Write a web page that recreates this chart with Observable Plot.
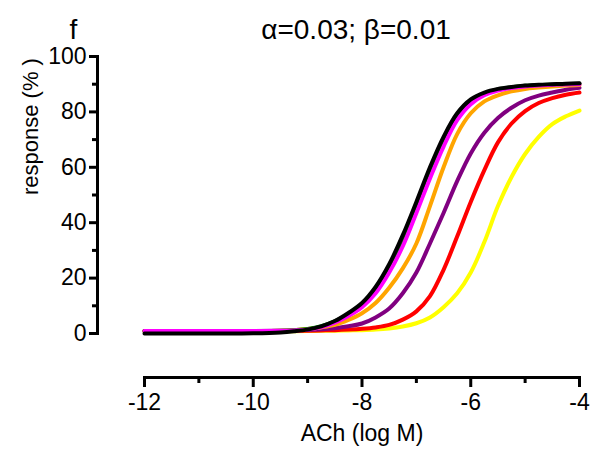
<!DOCTYPE html>
<html><head><meta charset="utf-8">
<script src="https://cdn.jsdelivr.net/npm/d3@7"></script>
<script src="https://cdn.jsdelivr.net/npm/@observablehq/plot@0.6"></script>
<style>body{margin:0;background:#fff}</style>
</head><body><div id="chart"></div>
<script>
const panelLabel = "f";
const title = "α=0.03; β=0.01";
const xLabel = "ACh (log M)";
const yLabel = "response (% )";

const logACh = [-12,-11,-10,-9.5,-9.25,-9,-8.75,-8.5,-8.25,-8,-7.75,-7.5,-7.25,-7,-6.75,-6.5,-6.25,-6,-5.75,-5.5,-5.25,-5,-4.75,-4.5,-4.25,-4];

const yellow  = [0.8,0.8,0.8,0.8,0.85,0.9,0.95,1.0,1.1,1.2,1.4,1.8,2.5,3.7,5.8,9.5,14.5,22,33,46,56.5,64.8,71,75.6,78.4,80.5];
const red     = [0.9,0.9,0.9,0.9,0.95,1.0,1.1,1.2,1.4,1.7,2.2,3.1,5,8,13.5,23,35,47.5,59,69,75.8,80.3,83.2,85,86.2,87];
const purple  = [0.9,0.9,0.9,1.0,1.1,1.3,1.5,1.9,2.6,3.6,5.8,9,14.5,22,32.5,43.5,55,65,72.5,77.8,81.5,84.2,85.9,87,88,88.7];
const orange  = [0.9,0.9,0.9,1.0,1.2,1.6,2.2,3.1,4.9,7.3,11,16.5,23.5,32.5,46,60,72,79.5,83.8,86,87.4,88.3,88.8,89.2,89.5,89.7];
const green   = [0.9,0.9,0.9,1.0,1.2,1.6,2.6,4.4,7.0,10.5,16,24,34,46,58.5,69.8,78.5,83.8,86.6,88.1,88.9,89.4,89.7,89.9,90.1,90.2];
const magenta = [0.9,0.9,0.9,0.95,1.1,1.4,2.3,3.9,6.3,9.5,14.5,22,31.5,43.5,56,67.5,77,82.8,86,87.7,88.6,89.2,89.5,89.8,89.9,90];
const black   = [0,0,0.1,0.4,0.8,1.4,2.6,4.5,7.4,11.0,16.8,25,35.5,47.5,60,71,79.5,84.5,87,88.3,89,89.5,89.8,90,90.2,90.3];

const seriesNames  = ["yellow","red","purple","orange","green","magenta","black"];
const seriesValues = [yellow, red, purple, orange, green, magenta, black];
const seriesColors = ["#ffff00","#ff2200","#993399","#ff9900","#00ff00","#ff44ff","#000000"];

const xTicks = [-12,-10,-8,-6,-4];
const xMinorTicks = [-11,-9,-7,-5];
const yTicks = [0,20,40,60,80,100];
const yMinorTicks = [10,30,50,70,90];

const rows = [];
seriesNames.forEach((s, k) => logACh.forEach((x, i) => rows.push({x, y: seriesValues[k][i], s})));

const font = "'Liberation Sans', Arial, sans-serif";

const chart = Plot.plot({
  width: 599, height: 455,
  marginLeft: 144, marginRight: 20, marginTop: 56, marginBottom: 122,
  x: {domain: [-12, -4]},
  y: {domain: [0, 100]},
  color: {domain: seriesNames, range: seriesColors},
  style: {fontFamily: font, fontSize: "23px", color: "black", background: "white", overflow: "visible"},
  marks: [
    Plot.line(rows, {x: "x", y: "y", z: "s", stroke: "s", strokeWidth: 4, curve: "catmull-rom"}),
    // y axis
    Plot.frame({anchor: "left", dx: -47, strokeWidth: 3, stroke: "black"}),
    Plot.axisY(yTicks, {anchor: "left", dx: -47, tickSize: 8, tickPadding: 3, strokeWidth: 3, label: null, fontSize: 23, tickFormat: d => String(d)}),
    Plot.axisY(yMinorTicks, {anchor: "left", dx: -47, tickSize: 5, strokeWidth: 3, label: null, text: null}),
    // x axis
    Plot.frame({anchor: "bottom", dy: 44, strokeWidth: 3, stroke: "black"}),
    Plot.axisX(xTicks, {anchor: "bottom", dy: 44, tickSize: 10, tickPadding: 6, strokeWidth: 3, label: null, fontSize: 23, tickFormat: d => String(d)}),
    Plot.axisX(xMinorTicks, {anchor: "bottom", dy: 44, tickSize: 6, strokeWidth: 3, label: null, text: null}),
    // labels
    Plot.text([xLabel], {frameAnchor: "bottom", dy: 107, fontSize: 23}),
    Plot.text([yLabel], {frameAnchor: "left", dx: -114, rotate: -90, fontSize: 22}),
    Plot.text([title], {frameAnchor: "top", dx: -6, dy: -37, fontSize: 28}),
    Plot.text([panelLabel], {frameAnchor: "top-left", dx: -75, dy: -37, fontSize: 28})
  ]
});
document.getElementById("chart").appendChild(chart);
</script>
</body></html>
